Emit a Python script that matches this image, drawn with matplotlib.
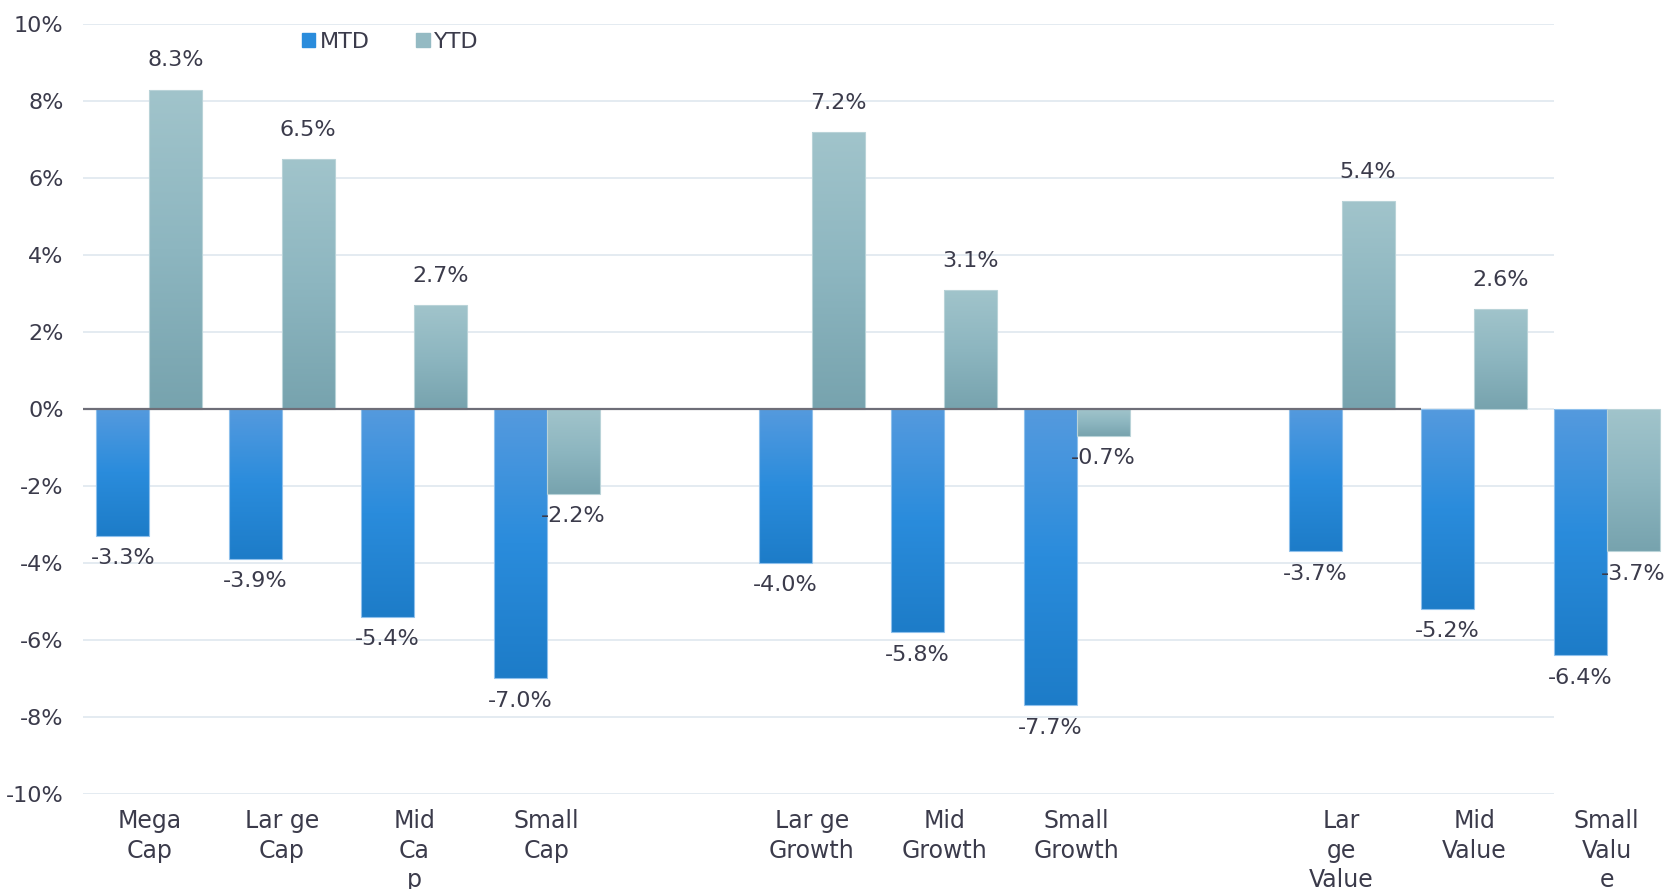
import numpy as np
import matplotlib
matplotlib.use("Agg")
from matplotlib import pyplot as plt
from matplotlib.colors import LinearSegmentedColormap

plt.rcParams['font.family'] = ['DejaVu Sans']

# data
labels = ["Mega\nCap", "Lar ge\nCap", "Mid\nCa\np", "Small\nCap",
          "Lar ge\nGrowth", "Mid\nGrowth", "Small\nGrowth",
          "Lar\nge\nValue", "Mid\nValue", "Small\nValu\ne"]
slots = [0, 1, 2, 3, 5, 6, 7, 9, 10, 11]
mtd = [-3.3, -3.9, -5.4, -7.0, -4.0, -5.8, -7.7, -3.7, -5.2, -6.4]
ytd = [8.3, 6.5, 2.7, -2.2, 7.2, 3.1, -0.7, 5.4, 2.6, -3.7]

text_col = "#3b3b4b"
mtd_cmap = LinearSegmentedColormap.from_list("mtd", ["#559ade", "#2a8cdc", "#1d7cc8"])
ytd_cmap = LinearSegmentedColormap.from_list("ytd", ["#a1c4cb", "#8db6c0", "#77a3ae"])

fig = plt.figure(figsize=(16.77, 8.89), dpi=100)
ax = fig.add_axes([0.0495, 0.1069, 0.948, 0.866])

x = np.array(slots, dtype=float)
w = 0.4
ax.set_xlim(-0.5, 11.5)
ax.set_ylim(-10, 10)

# grid
for yv in range(-10, 11, 2):
    ax.hlines(yv, -0.5, 10.6, color="#dfe7ef", lw=1.2, zorder=0)

b1 = ax.bar(x - w / 2, mtd, w, color="none", edgecolor="#8ec0ec", lw=0.8, zorder=3)
b2 = ax.bar(x + w / 2, ytd, w, color="none", edgecolor="#b9d3d8", lw=0.8, zorder=3)

# vertical gradient, light at top
grad = np.linspace(0, 1, 256).reshape(-1, 1)
for bars, cmap in [(b1, mtd_cmap), (b2, ytd_cmap)]:
    for r in bars:
        x0 = r.get_x()
        y0 = min(r.get_y(), r.get_y() + r.get_height())
        y1 = max(r.get_y(), r.get_y() + r.get_height())
        im = ax.imshow(grad, cmap=cmap, aspect="auto", extent=[x0, x0 + r.get_width(), y0, y1],
                       origin="upper", zorder=2)
        im.set_clip_path(r)

ax.hlines(0, -0.5, 9.6, color="#6e6e78", lw=1.6, zorder=4)

for xs, vals in [(x - w / 2, mtd), (x + w / 2, ytd)]:
    for xi, v in zip(xs, vals):
        off = 21 if v > 0 else -16
        ax.annotate(f"{v:.1f}%", (xi, v), xytext=(0, off), textcoords="offset points",
                    ha="center", va="center", fontsize=16, color=text_col, zorder=5)

ax.set_yticks(range(-10, 11, 2))
ax.set_yticklabels([f"{t}%" for t in range(-10, 11, 2)], fontsize=16, color=text_col)
ax.set_xticks(x)
ax.set_xticklabels(labels, fontsize=17, color=text_col, va="top", linespacing=1.28)
ax.tick_params(length=0, axis="y", pad=14)
ax.tick_params(length=0, axis="x", pad=11)
for s in ax.spines.values():
    s.set_visible(False)

h1 = plt.Rectangle((0, 0), 1, 1, color="#2a8cdc")
h2 = plt.Rectangle((0, 0), 1, 1, color="#94bac3")
fig.legend([h1, h2], ["MTD", "YTD"], loc="center left", bbox_to_anchor=(0.168, 0.953),
           ncol=2, frameon=False, fontsize=16, handlelength=0.6, handleheight=0.6,
           handletextpad=0.2, columnspacing=2.1, labelcolor=text_col)

fig.savefig("out.png", dpi=100)
